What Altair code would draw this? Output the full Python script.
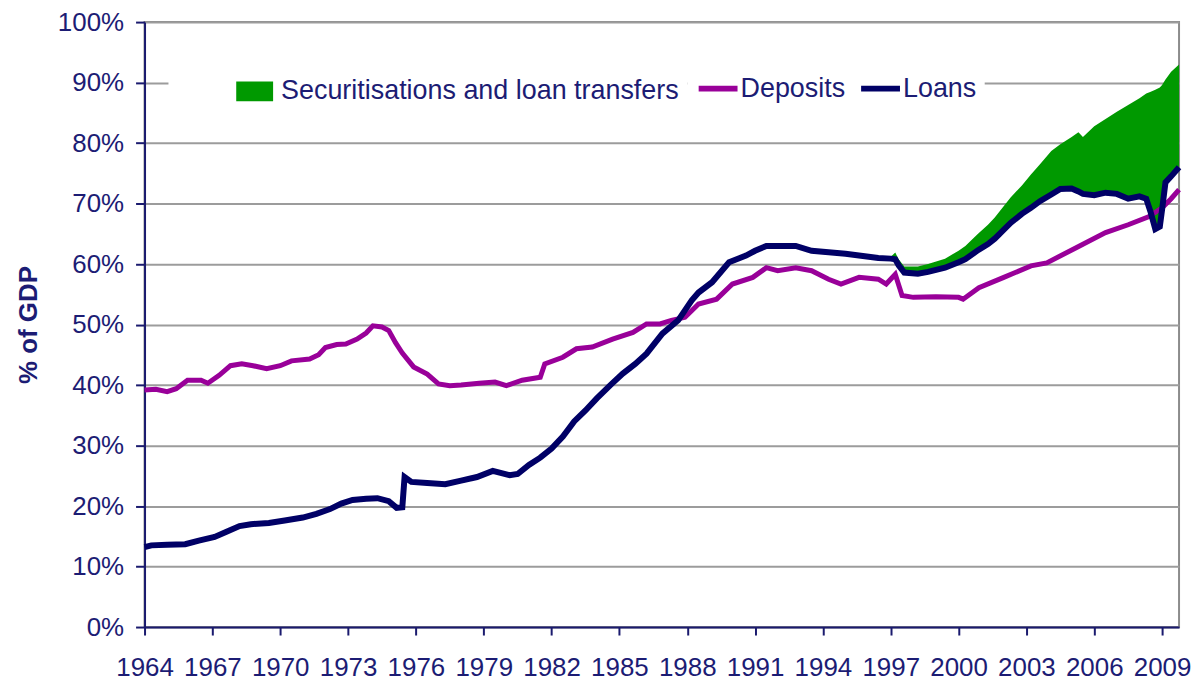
import altair as alt
import pandas as pd

# ---------------- data ----------------
loans_years = [1964.0, 1964.3, 1965.0, 1965.8, 1966.4, 1967.1, 1967.6, 1968.2, 1968.7, 1969.5,
               1970.2, 1971.0, 1971.6, 1972.2, 1972.7, 1973.2, 1973.8, 1974.3, 1974.8, 1975.15,
               1975.4, 1975.5, 1975.8, 1976.5, 1977.3, 1978.0, 1978.7, 1979.4, 1980.15, 1980.5,
               1981.0, 1981.5, 1982.0, 1982.5, 1983.0, 1983.5, 1984.0, 1984.6, 1985.15, 1985.7,
               1986.2, 1986.9, 1987.6, 1988.2, 1988.5, 1989.1, 1989.85, 1990.6, 1991.0, 1991.5,
               1992.8, 1993.5, 1995.0, 1996.45, 1997.0, 1997.2, 1997.35, 1997.6, 1998.2, 1998.65,
               1999.4, 2000.0, 2000.3, 2000.86, 2001.3, 2001.6, 2002.3, 2002.8, 2003.2, 2003.6,
               2004.1, 2004.5, 2005.0, 2005.3, 2005.5, 2006.0, 2006.5, 2007.0, 2007.5, 2008.0,
               2008.3, 2008.5, 2008.7, 2008.9, 2009.0, 2009.15, 2009.4, 2009.75]
loans_values = [13.2, 13.5, 13.6, 13.7, 14.3, 14.9, 15.7, 16.7, 17.0, 17.2,
                17.6, 18.1, 18.7, 19.5, 20.4, 21.0, 21.2, 21.3, 20.8, 19.7,
                19.8, 24.8, 24.0, 23.8, 23.6, 24.2, 24.8, 25.8, 25.1, 25.3,
                26.8, 28.0, 29.5, 31.5, 34.0, 35.8, 37.8, 40.0, 41.9, 43.5,
                45.2, 48.5, 50.7, 54.0, 55.3, 57.0, 60.3, 61.4, 62.2, 63.0,
                63.0, 62.2, 61.7, 61.0, 60.9, 60.8, 59.8, 58.6, 58.4, 58.7,
                59.4, 60.3, 60.8, 62.3, 63.3, 64.2, 66.8, 68.3, 69.3, 70.4,
                71.5, 72.4, 72.5, 72.0, 71.6, 71.4, 71.8, 71.6, 70.8, 71.2,
                70.8, 68.5, 65.8, 66.2, 69.0, 73.5, 74.5, 76.0]

deposits_years = [1964.0, 1964.5, 1965.0, 1965.4, 1965.9, 1966.5, 1966.8, 1967.3, 1967.8, 1968.3,
                  1968.8, 1969.4, 1970.0, 1970.5, 1971.3, 1971.7, 1972.0, 1972.5, 1972.9, 1973.4,
                  1973.8, 1974.1, 1974.5, 1974.8, 1975.1, 1975.4, 1975.9, 1976.5, 1977.0, 1977.5,
                  1978.0, 1978.8, 1979.5, 1980.0, 1980.7, 1981.5, 1981.7, 1982.5, 1983.1, 1983.8,
                  1984.7, 1985.6, 1986.2, 1986.8, 1987.3, 1987.9, 1988.5, 1989.3, 1990.0, 1990.9,
                  1991.5, 1992.0, 1992.8, 1993.5, 1994.25, 1994.8, 1995.6, 1996.45, 1996.8, 1997.2,
                  1997.5, 1998.0, 1999.0, 2000.0, 2000.2, 2000.9, 2002.0, 2003.2, 2003.9, 2005.2,
                  2006.5, 2007.5, 2008.4, 2009.0, 2009.4, 2009.75]
deposits_values = [39.2, 39.3, 38.9, 39.4, 40.8, 40.8, 40.3, 41.6, 43.2, 43.5,
                   43.2, 42.7, 43.2, 44.0, 44.3, 45.0, 46.2, 46.7, 46.8, 47.6,
                   48.6, 49.8, 49.6, 49.0, 47.0, 45.3, 43.0, 41.8, 40.2, 39.9,
                   40.0, 40.3, 40.5, 39.9, 40.8, 41.3, 43.5, 44.6, 46.0, 46.3,
                   47.6, 48.7, 50.1, 50.1, 50.7, 51.2, 53.4, 54.2, 56.7, 57.8,
                   59.4, 58.9, 59.4, 58.9, 57.5, 56.7, 57.8, 57.5, 56.7, 58.3,
                   54.8, 54.5, 54.6, 54.5, 54.2, 56.1, 57.8, 59.7, 60.2, 62.7,
                   65.2, 66.5, 67.8, 69.3, 70.8, 72.3]

# loans plus securitisations and loan transfers (top of the green band)
sec_years = [1996.45, 1997.0, 1997.2, 1997.35, 1997.6, 1998.2, 1998.65, 1999.4, 2000.0, 2000.3,
             2000.86, 2001.3, 2001.6, 2002.3, 2002.8, 2003.2, 2003.6, 2004.1, 2004.5, 2005.0,
             2005.3, 2005.5, 2006.0, 2006.5, 2007.0, 2007.5, 2008.0, 2008.3, 2008.5, 2008.7,
             2008.9, 2009.0, 2009.15, 2009.4, 2009.75]
sec_top = [61.0, 61.2, 61.9, 60.8, 59.6, 59.6, 60.0, 60.9, 62.2, 63.0,
           65.0, 66.5, 67.7, 71.0, 73.0, 74.8, 76.5, 78.7, 79.8, 81.0,
           81.8, 81.0, 82.8, 84.0, 85.2, 86.3, 87.4, 88.2, 88.5, 88.8,
           89.2, 89.6, 90.5, 91.8, 93.0]

x_ticks = [1964, 1967, 1970, 1973, 1976, 1979, 1982, 1985, 1988, 1991, 1994, 1997, 2000, 2003, 2006, 2009]
y_ticks = [0, 10, 20, 30, 40, 50, 60, 70, 80, 90, 100]

SEC = "Securitisations and loan transfers"
series_names = ["Deposits", "Loans"]
series_colors = ["#990099", "#000066"]
GREEN = "#009900"

FONT = "Liberation Sans"
TXT = "#1c1c74"
AXIS = "#1a1a6e"

# ---------------- tables ----------------
loans_df = pd.DataFrame({"year": loans_years, "value": loans_values, "series": "Loans"})
dep_df = pd.DataFrame({"year": deposits_years, "value": deposits_values, "series": "Deposits"})
loan_lookup = dict(zip(loans_years, loans_values))
sec_df = pd.DataFrame({
    "year": sec_years,
    "bottom": [loan_lookup[y] for y in sec_years],
    "top": sec_top,
    "series": SEC,
})

x_enc = alt.X(
    "year:Q",
    scale=alt.Scale(domain=[1964, 2009.75], nice=False, zero=False),
    axis=alt.Axis(
        values=x_ticks, format="d", title=None, grid=False,
        labelFont=FONT, labelFontSize=26, labelColor=TXT,
        labelPadding=20, labelFlush=False, labelOverlap=False,
        tickColor=AXIS, tickSize=8, tickWidth=2,
        domainColor=AXIS, domainWidth=2,
    ),
)

y_scale = alt.Scale(domain=[0, 100], nice=False, zero=True)
y_axis = alt.Axis(
    values=y_ticks, labelExpr="datum.value + '%'",
    title="% of GDP", titleFont=FONT, titleFontSize=26, titleFontWeight="bold",
    titleColor=TXT, titlePadding=16,
    labelFont=FONT, labelFontSize=26, labelColor=TXT, labelPadding=12,
    labelFlush=False, labelOverlap=False,
    grid=True, gridColor="#9c9c9c", gridWidth=2,
    tickColor=AXIS, tickSize=9, tickWidth=2,
    domainColor=AXIS, domainWidth=2,
)

area = alt.Chart(sec_df).mark_area(opacity=1, interpolate="linear").encode(
    x=x_enc,
    y=alt.Y("bottom:Q", scale=y_scale, axis=y_axis),
    y2="top:Q",
    fill=alt.Fill(
        "series:N",
        scale=alt.Scale(domain=[SEC], range=[GREEN]),
        legend=alt.Legend(
            title=None, orient="none", legendX=24, legendY=43, direction="horizontal",
            fillColor="white", padding=8,
            symbolType="M-1,-0.54L1,-0.54L1,0.54L-1,0.54Z", symbolSize=1369,
            symbolOffset=60, symbolStrokeWidth=0, symbolOpacity=1,
            labelFont=FONT, labelFontSize=27, labelColor=TXT, labelOffset=8, labelLimit=700,
        ),
    ),
)

stroke_scale = alt.Scale(domain=series_names, range=series_colors)
stroke_legend = alt.Legend(
    title=None, orient="none", legendX=545, legendY=36, direction="horizontal",
    fillColor="white", padding=8,
    symbolType="stroke", symbolSize=1521, symbolStrokeWidth=6,
    labelFont=FONT, labelFontSize=27, labelColor=TXT, labelOffset=0, labelLimit=400,
    columnPadding=3,
)

dep_line = alt.Chart(dep_df).mark_line(strokeWidth=5).encode(
    x=x_enc,
    y=alt.Y("value:Q", scale=y_scale, axis=y_axis),
    stroke=alt.Stroke("series:N", scale=stroke_scale, legend=stroke_legend),
)

loan_line = alt.Chart(loans_df).mark_line(strokeWidth=6).encode(
    x=x_enc,
    y=alt.Y("value:Q", scale=y_scale, axis=y_axis),
    stroke=alt.Stroke("series:N", scale=stroke_scale, legend=stroke_legend),
)

chart = alt.layer(area, dep_line, loan_line).properties(
    width=1038, height=607,
    padding={"left": 7, "top": 0, "right": 0, "bottom": 0},
).configure_view(stroke="#8c8c8c", strokeWidth=2)

chart.save("out.html", embed_options={"renderer": "svg", "actions": False})
